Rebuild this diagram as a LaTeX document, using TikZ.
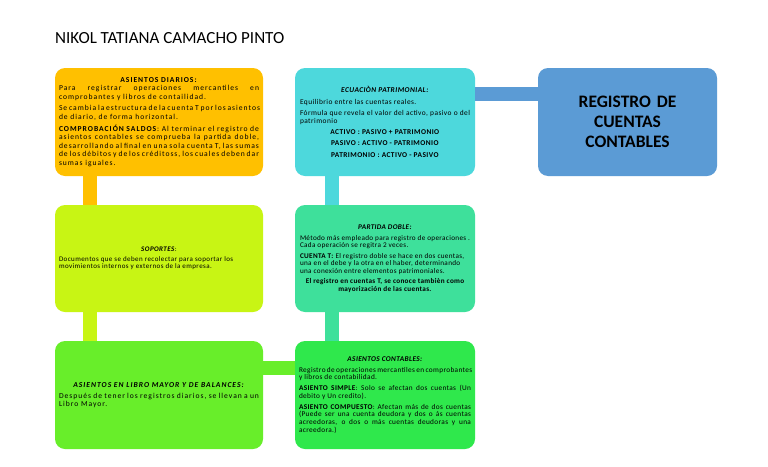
\documentclass[tikz,border=0pt]{standalone}
\usepackage{fontspec}
\setmainfont{Carlito}
\newfontfamily\boxfont{Carlito}[LetterSpace=6]
\newfontfamily\boxfontm{Carlito}[LetterSpace=4.5]
\newfontfamily\boxfontg{Carlito}[LetterSpace=5]
\newfontfamily\boxfontw{Carlito}[LetterSpace=13]
\usetikzlibrary{calc}
\definecolor{cOrange}{HTML}{FFC000}
\definecolor{cCyan}{HTML}{4DD8DC}
\definecolor{cBlue}{HTML}{5B9BD5}
\definecolor{cYellow}{HTML}{C8F514}
\definecolor{cMint}{HTML}{3EE09B}
\definecolor{cLime}{HTML}{68EE2A}
\definecolor{cGreen}{HTML}{2FE84C}
\tikzset{
  box/.style={rounded corners=10pt, inner xsep=4pt, inner ysep=0pt, anchor=center,
    font=\boxfont\fontsize{7.4}{7.7}\selectfont, align=justify},
  bar/.style={line width=14pt},
}
\newcommand{\psep}{\par\vspace{3pt}}
\newcommand{\myjust}{\leftskip=0pt\rightskip=0pt\parfillskip=0pt plus 1fil\relax}
\hyphenpenalty=10000
\exhyphenpenalty=10000
\begin{document}
\begin{tikzpicture}[x=1pt,y=-1pt]
\useasboundingbox (0,0) rectangle (768,466);
\fill[white] (0,0) rectangle (768,466);
\node[anchor=west, font=\fontsize{17}{20}\selectfont, inner sep=0pt] (title) at (55,38) {NIKOL TATIANA CAMACHO PINTO};

% boxes
\node[box, fill=cOrange, minimum width=208pt, minimum height=108pt, text width=200pt, font=\boxfontw\fontsize{7.6}{8.6}\selectfont] (diarios) at (159,122) {%
\centering\textbf{ASIENTOS DIARIOS:}\par\myjust\hyphenpenalty=10000
Para registrar operaciones mercantiles en comprobantes y libros de contailidad.\psep
Se cambia la estructura de la cuenta T por los asientos de diario, de forma horizontal.\psep
\textbf{COMPROBACIÓN SALDOS}: Al terminar el registro de asientos contables se comprueba la partida doble, desarrollando al final en una sola cuenta T, las sumas de los débitos y de los créditoss, los cuales deben dar sumas iguales.\par};

\node[box, fill=cCyan, minimum width=180pt, minimum height=108pt, text width=170pt, font=\boxfont\fontsize{7.4}{8.2}\selectfont] (ecuacion) at (385,122) {%
\centering\textbf{\textit{ECUACIÒN PATRIMONIAL:}}\psep\raggedright\hyphenpenalty=10000
Equilibrio entre las cuentas reales.\psep\myjust
Fórmula que revela el valor del activo, pasivo o del patrimonio\psep
\centering\textbf{ACTIVO : PASIVO + PATRIMONIO}\psep
\textbf{PASIVO :  ACTIVO - PATRIMONIO}\psep
\textbf{PATRIMONIO : ACTIVO - PASIVO}\par};

\node[box, fill=cBlue, minimum width=179pt, minimum height=108pt, text width=170pt, align=center,
  font=\fontsize{17.5}{20}\selectfont\bfseries] (registro) at (627.5,122) {REGISTRO DE\\CUENTAS\\CONTABLES};

\node[box, fill=cYellow, minimum width=208pt, minimum height=107pt, text width=200pt, font=\boxfont\fontsize{7}{7.2}\selectfont] (soportes) at (159,258.5) {%
\centering\textbf{\textit{SOPORTES}}:\psep\raggedright\hyphenpenalty=10000
Documentos que se deben recolectar para soportar los movimientos internos y externos de la empresa.\par};

\node[box, fill=cMint, minimum width=180pt, minimum height=107pt, text width=170pt, font=\boxfontm\fontsize{7.2}{7.5}\selectfont] (partida) at (385,258.5) {%
\centering\textbf{\textit{PARTIDA DOBLE:}}\psep\raggedright\hyphenpenalty=10000
Método más empleado  para registro de operaciones . Cada operación se regitra 2 veces.\psep
\textbf{CUENTA T:}  El registro doble se hace en dos cuentas, una en el debe  y la otra en el haber, determinando una conexión entre elementos patrimoniales.\psep
\centering\textbf{El registro en cuentas T, se conoce tambièn como mayorización de las cuentas.}\par};

\node[box, fill=cLime, minimum width=208pt, minimum height=108pt, text width=200pt, font=\boxfontw\fontsize{7.6}{8.2}\selectfont] (mayor) at (159,395) {%
\centering\textbf{\textit{ASIENTOS EN LIBRO MAYOR Y DE BALANCES:}}\psep\myjust\hyphenpenalty=10000
Después de tener los registros diarios, se llevan a un Libro Mayor.\par};

\node[box, fill=cGreen, minimum width=180pt, minimum height=108pt, text width=172pt, inner xsep=3pt, font=\boxfontg\fontsize{7.3}{7.7}\selectfont] (contables) at (385,395) {%
\centering\textbf{\textit{ASIENTOS CONTABLES:}}\psep\myjust\hyphenpenalty=10000
Registro de operaciones mercantiles en comprobantes y libros de contabilidad.\psep
\textbf{ASIENTO SIMPLE}: Solo se afectan dos cuentas (Un debito y Un credito).\psep
\textbf{ASIENTO COMPUESTO}: Afectan más de dos cuentas (Puede ser una cuenta deudora y dos o ás cuentas acreedoras, o dos o más cuentas deudoras y una acreedora.)\par};

% connectors
\draw[bar, cBlue] ($(ecuacion.north east)+(0,26)$) -- ($(registro.north west)+(0,26)$);
\draw[bar, cOrange] ($(diarios.south west)+(35.5,0)$) -- ($(soportes.north west)+(35.5,0)$);
\draw[bar, cCyan] ($(ecuacion.south west)+(37,0)$) -- ($(partida.north west)+(37,0)$);
\draw[bar, cYellow] ($(soportes.south west)+(35.5,0)$) -- ($(mayor.north west)+(35.5,0)$);
\draw[bar, cMint] ($(partida.south west)+(37,0)$) -- ($(contables.north west)+(37,0)$);
\draw[bar, cLime] ($(mayor.north east)+(0,27)$) -- ($(contables.north west)+(0,27)$);
\end{tikzpicture}
\end{document}
